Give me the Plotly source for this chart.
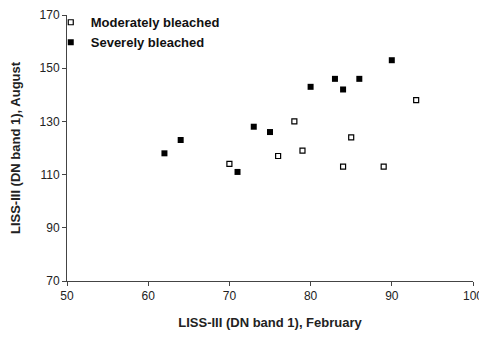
import plotly.graph_objects as go

mod_x = [93, 78, 85, 79, 76, 70, 84, 89]
mod_y = [138, 130, 124, 119, 117, 114, 113, 113]
sev_x = [90, 83, 86, 80, 84, 73, 75, 71, 62, 64]
sev_y = [153, 146, 146, 143, 142, 128, 126, 111, 118, 123]
x_ticks = [50, 60, 70, 80, 90, 100]
y_ticks = [70, 90, 110, 130, 150, 170]

font = "Liberation Sans, Arial, sans-serif"

fig = go.Figure()
fig.add_trace(go.Scatter(x=mod_x, y=mod_y, mode="markers", name="Moderately bleached",
                         marker=dict(symbol="square-open", size=5, color="black",
                                     line=dict(width=1.2, color="black"))))
fig.add_trace(go.Scatter(x=sev_x, y=sev_y, mode="markers", name="Severely bleached",
                         marker=dict(symbol="square", size=6, color="black")))

axis_common = dict(showgrid=False, zeroline=False, showline=True, linecolor="#444",
                   linewidth=1, ticks="outside", ticklen=4, tickcolor="#444",
                   automargin=False,
                   tickfont=dict(family=font, size=12, color="#222"))

# the page body adds an 8px margin, so the figure is sized to fit inside the window
fig.update_layout(
    width=479, height=332,
    margin=dict(l=59, r=14, t=7, b=59, autoexpand=False),
    paper_bgcolor="white", plot_bgcolor="white",
    showlegend=True,
    legend=dict(x=-0.04, y=1.029, xanchor="left", yanchor="top",
                font=dict(family=font, size=13, color="#111", weight="bold"),
                bgcolor="rgba(0,0,0,0)", tracegroupgap=0, itemwidth=30),
    xaxis=dict(range=[50, 100], tickvals=x_ticks,
               title=dict(text="<b>LISS-III (DN band 1), February</b>",
                          font=dict(family=font, size=13, color="#222"), standoff=15),
               **axis_common),
    yaxis=dict(range=[70, 170], tickvals=y_ticks,
               title=dict(text="<b>LISS-III (DN band 1), August</b>",
                          font=dict(family=font, size=13, color="#222"), standoff=28),
               **axis_common),
)

fig.write_html("out.html")
